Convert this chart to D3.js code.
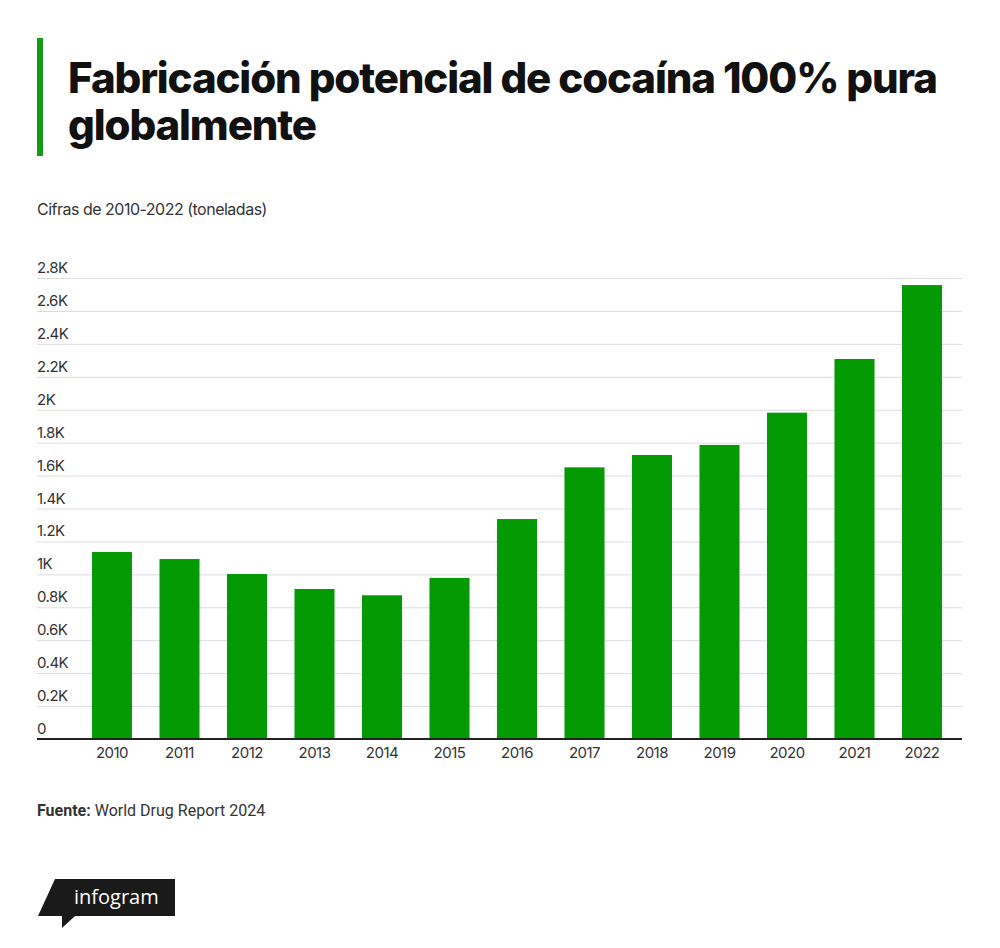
<!DOCTYPE html>
<meta charset="utf-8">
<style>
body { margin: 0; background: #fff; }
text { font-family: Inter, "Noto Sans", sans-serif; }
.grid line { stroke: #dcdcdc; stroke-width: 1; }
.tick-label { font-size: 15px; fill: #333; letter-spacing: -0.5px; }
.bar { fill: #039a03; }
</style>
<svg width="1000" height="948"></svg>
<script src="https://d3js.org/d3.v7.min.js"></script>
<script>

var years = ["2010", "2011", "2012", "2013", "2014", "2015", "2016",
             "2017", "2018", "2019", "2020", "2021", "2022"];
var tonnes = [1136, 1093, 1002, 911, 873, 978, 1336,
              1650, 1725, 1786, 1982, 2308, 2757];
var yTicks = [0, 200, 400, 600, 800, 1000, 1200, 1400,
              1600, 1800, 2000, 2200, 2400, 2600, 2800];

var svg = d3.select("svg"),
    gridLeft = 37, gridRight = 962,
    plotTop = 278, plotBottom = 739;

var x = d3.scaleBand()
    .domain(years)
    .range([78.25, 955.75])
    .paddingInner(0.407)
    .paddingOuter(0.2035);

var y = d3.scaleLinear()
    .domain([0, 2800])
    .range([plotBottom, plotTop]);

function fmt(v) { return v === 0 ? "0" : (v / 1000) + "K"; }

// title with green accent bar
svg.append("rect")
    .attr("x", 37).attr("y", 38)
    .attr("width", 6).attr("height", 118)
    .attr("fill", "#139c13");

var title = svg.append("text")
    .attr("x", 68)
    .attr("font-size", 42)
    .attr("font-weight", 800)
    .attr("fill", "#111");
title.append("tspan").attr("x", 68).attr("y", 93)
    .text("Fabricación potencial de cocaína 100% pura");
title.append("tspan").attr("x", 68).attr("y", 140)
    .text("globalmente");

// squeeze the title to the reference width
var t1 = title.select("tspan").node();
var w = t1.getComputedTextLength();
var n = t1.textContent.length;
title.attr("letter-spacing", ((870 - w) / (n - 1)) + "px");

svg.append("text")
    .attr("x", 37).attr("y", 215)
    .attr("font-size", 16)
    .attr("fill", "#333")
    .attr("letter-spacing", "-0.5px")
    .text("Cifras de 2010-2022 (toneladas)");

// gridlines + y labels
var grid = svg.append("g").attr("class", "grid");
grid.selectAll("line")
    .data(yTicks.slice(1))
    .enter().append("line")
      .attr("x1", gridLeft).attr("x2", gridRight)
      .attr("y1", function(d) { return y(d) + 0.5; })
      .attr("y2", function(d) { return y(d) + 0.5; });

svg.append("g").selectAll("text")
    .data(yTicks)
    .enter().append("text")
      .attr("class", "tick-label")
      .attr("x", gridLeft)
      .attr("y", function(d) { return y(d) - 5; })
      .text(fmt);

// bars
svg.append("g").selectAll(".bar")
    .data(tonnes)
    .enter().append("rect")
      .attr("class", "bar")
      .attr("x", function(d, i) { return x(years[i]); })
      .attr("y", function(d) { return y(d); })
      .attr("width", x.bandwidth())
      .attr("height", function(d) { return plotBottom - y(d); });

// baseline
svg.append("line")
    .attr("x1", gridLeft).attr("x2", gridRight)
    .attr("y1", plotBottom).attr("y2", plotBottom)
    .attr("stroke", "#222").attr("stroke-width", 2);

// x labels
svg.append("g").selectAll("text")
    .data(years)
    .enter().append("text")
      .attr("class", "tick-label")
      .attr("text-anchor", "middle")
      .attr("x", function(d) { return x(d) + x.bandwidth() / 2; })
      .attr("y", 758)
      .text(function(d) { return d; });

// source
var src = svg.append("text")
    .attr("x", 37).attr("y", 816)
    .attr("font-size", 16)
    .attr("fill", "#333")
    .style("font-family", "Roboto, sans-serif");
src.append("tspan").attr("font-weight", 700).text("Fuente: ");
src.append("tspan").text("World Drug Report 2024");

// infogram badge
svg.append("path")
    .attr("d", "M55,879 L175,879 L175,916 L75,916 L62,928 L62,916 L38,916 Z")
    .attr("fill", "#1a1a1a");
svg.append("text")
    .attr("x", 74).attr("y", 904)
    .attr("font-size", 20)
    .attr("fill", "#fff")
    .style("font-family", "'Open Sans', sans-serif")
    .text("infogram");

</script>
